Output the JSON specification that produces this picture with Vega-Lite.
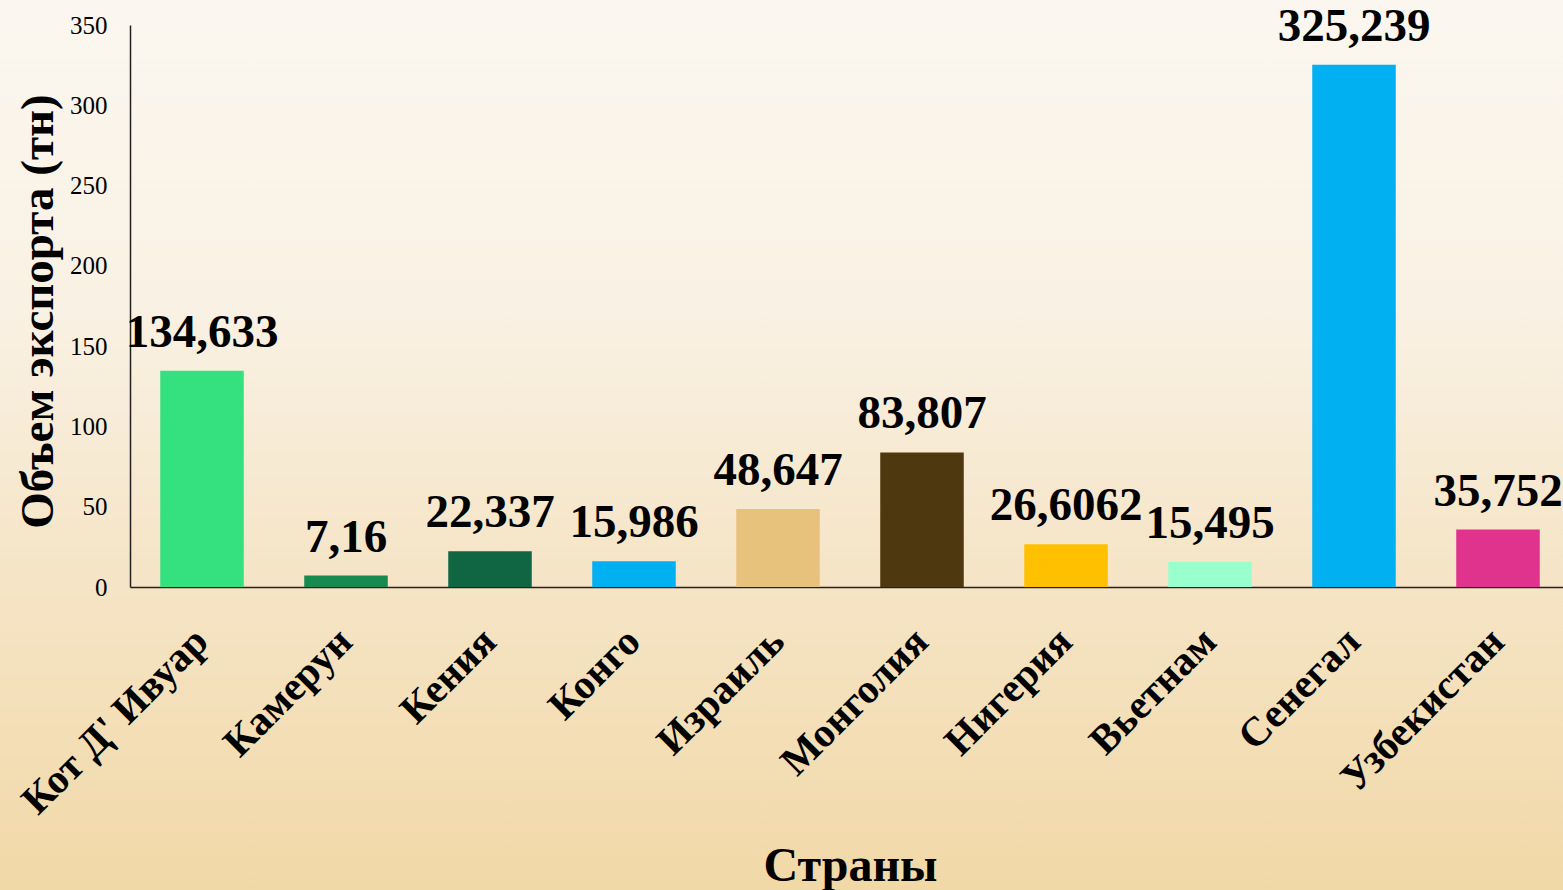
{
  "$schema": "https://vega.github.io/schema/vega-lite/v6.json",
  "width": 1563,
  "height": 890,
  "autosize": {"type": "none"},
  "padding": 0,
  "background": "#F6E8CC",
  "config": {
    "font": "Liberation Serif",
    "view": {
      "stroke": null,
      "fill": {
        "gradient": "linear",
        "x1": 0, "y1": 0, "x2": 0, "y2": 1,
        "stops": [
          {"offset": 0, "color": "#FBF7F0"},
          {"offset": 0.35, "color": "#F9F1E3"},
          {"offset": 0.66, "color": "#F5E4C5"},
          {"offset": 1, "color": "#F1D8A7"}
        ]
      }
    }
  },
  "data": {
    "values": [
      {"country": "Кот Д' Ивуар", "value": 134.633, "label": "134,633"},
      {"country": "Камерун", "value": 7.16, "label": "7,16"},
      {"country": "Кения", "value": 22.337, "label": "22,337"},
      {"country": "Конго", "value": 15.986, "label": "15,986"},
      {"country": "Израиль", "value": 48.647, "label": "48,647"},
      {"country": "Монголия", "value": 83.807, "label": "83,807"},
      {"country": "Нигерия", "value": 26.6062, "label": "26,6062"},
      {"country": "Вьетнам", "value": 15.495, "label": "15,495"},
      {"country": "Сенегал", "value": 325.239, "label": "325,239"},
      {"country": "Узбекистан", "value": 35.752, "label": "35,752"}
    ]
  },
  "encoding": {
    "x": {
      "field": "country",
      "type": "nominal",
      "sort": null,
      "scale": {"range": [130, 1570], "paddingInner": 0.42, "paddingOuter": 0.21},
      "axis": {
        "title": "Страны",
        "offset": -303,
        "labelAngle": -45,
        "labelAlign": "right",
        "labelBaseline": "middle",
        "labelLimit": 0,
        "labelFont": "Liberation Serif",
        "labelFontSize": 41,
        "labelFontWeight": "bold",
        "labelColor": "black",
        "labelPadding": 48,
        "ticks": false,
        "domainColor": "#222222",
        "domainWidth": 1.5,
        "titleFont": "Liberation Serif",
        "titleFontSize": 48,
        "titleFontWeight": "bold",
        "titleColor": "black",
        "titleBaseline": "alphabetic",
        "titleY": 293
      }
    },
    "y": {
      "field": "value",
      "type": "quantitative",
      "scale": {"domain": [0, 350], "range": [587, 25], "nice": false},
      "axis": {
        "title": "Объем экспорта (тн)",
        "offset": -130,
        "values": [0, 50, 100, 150, 200, 250, 300, 350],
        "grid": false,
        "ticks": false,
        "labelFont": "Liberation Serif",
        "labelFontSize": 25,
        "labelColor": "black",
        "labelPadding": 23,
        "domainColor": "#222222",
        "domainWidth": 1.5,
        "titleFont": "Liberation Serif",
        "titleFontSize": 47,
        "titleFontWeight": "bold",
        "titleColor": "black",
        "titleBaseline": "alphabetic",
        "titleX": -78,
        "titleY": 311
      }
    }
  },
  "layer": [
    {
      "mark": {"type": "bar"},
      "encoding": {
        "color": {
          "field": "country",
          "type": "nominal",
          "legend": null,
          "scale": {
            "domain": ["Кот Д' Ивуар", "Камерун", "Кения", "Конго", "Израиль", "Монголия", "Нигерия", "Вьетнам", "Сенегал", "Узбекистан"],
            "range": ["#35E07F", "#178A50", "#106643", "#00B0F0", "#E6C27C", "#4E3810", "#FFC000", "#99FFCC", "#00B0F0", "#E0338D"]
          }
        }
      }
    },
    {
      "mark": {"type": "text", "baseline": "alphabetic", "dy": -24, "fontSize": 47, "fontWeight": "bold", "font": "Liberation Serif", "color": "black"},
      "encoding": {"text": {"field": "label"}}
    }
  ]
}
